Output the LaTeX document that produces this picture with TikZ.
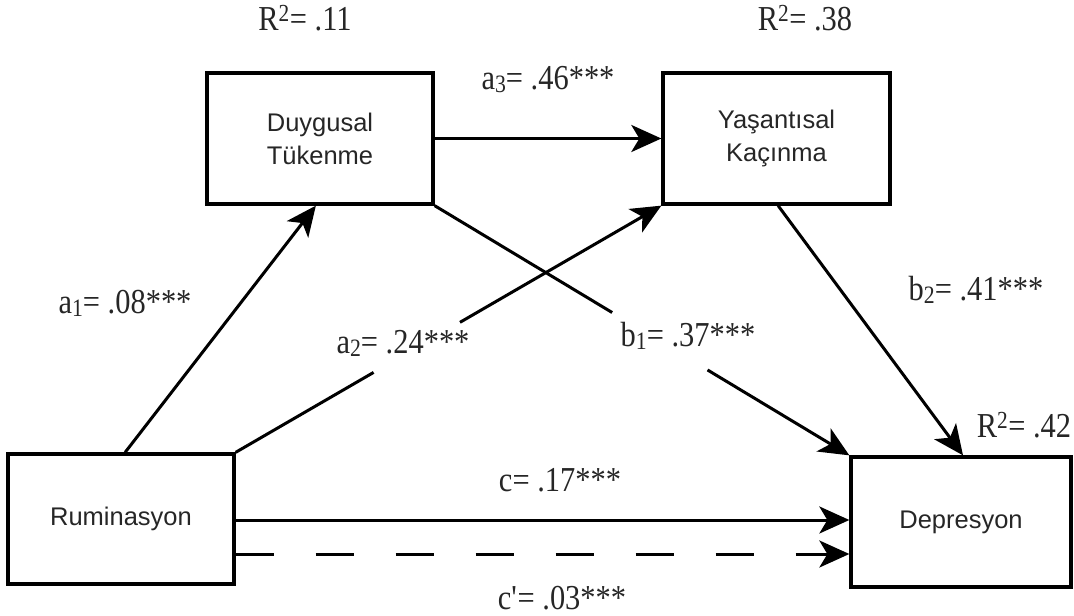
\documentclass[tikz,border=0pt]{standalone}
\usepackage{fontspec}
\setmainfont{Liberation Serif}
\setsansfont{Liberation Sans}
\newfontfamily\labfont[FakeStretch=0.87]{Liberation Serif}
\newcommand\lsub[1]{\raisebox{-3pt}{\fontsize{25}{25}\selectfont #1}}
\usetikzlibrary{arrows.meta,calc}
\begin{document}
\begin{tikzpicture}[x=1pt,y=-1pt,
  box/.style={draw=black, line width=3.3pt, inner sep=0pt, align=center,
    font=\fontsize{25.5}{33}\selectfont\sffamily, text=black!85},
  lab/.style={font=\fontsize{35}{40}\labfont, text=black!85, inner sep=0pt},
  arr/.style={line width=3pt, -{Stealth[length=30pt,width=27pt,inset=8pt]}},
  ln/.style={line width=3pt}]
\useasboundingbox (0,0) rectangle (1074,616);
% boxes
\node[box, minimum width=226pt, minimum height=130pt] (R) at (121,519) {Ruminasyon};
\node[box, minimum width=226pt, minimum height=131pt] (D) at (320,138.5) {Duygusal\\Tükenme};
\node[box, minimum width=227pt, minimum height=131pt] (Y) at (776.5,138.5) {Yaşantısal\\Kaçınma};
\node[box, minimum width=220pt, minimum height=130pt] (Dp) at (961,522) {Depresyon};
% labels
\node[lab] (r11) at (305,18) {R\textsuperscript{2}= .11};
\node[lab] (r38) at (805,18) {R\textsuperscript{2}= .38};
\node[lab] (r42) at (1024,425) {R\textsuperscript{2}= .42};
\node[lab] (la3) at (548,80) {a\lsub{3}= .46***};
\node[lab] (la1) at (125,303) {a\lsub{1}= .08***};
\node[lab] (la2) at (403,343) {a\lsub{2}= .24***};
\node[lab] (lb1) at (688,336) {b\lsub{1}= .37***};
\node[lab] (lb2) at (976,290) {b\lsub{2}= .41***};
\node[lab] (lc) at (560,480) {c= .17***};
\node[lab] (lcp) at (562,598) {c\textquotesingle= .03***};
% connectors
\draw[arr] ($(R.north west)!0.518!(R.north east)$) -- ($(D.south west)!0.482!(D.south east)$);
\draw[ln] (R.north east) -- ($(R.north east)!0.324!(Y.south west)$);
\draw[arr] ($(R.north east)!0.527!(Y.south west)$) -- (Y.south west);
\draw[ln] (D.south east) -- ($(D.south east)!0.428!(Dp.north west)$);
\draw[arr] ($(D.south east)!0.658!(Dp.north west)$) -- (Dp.north west);
\draw[arr] ($(Y.south west)!0.507!(Y.south east)$) -- ($(Dp.north west)!0.509!(Dp.north east)$);
\draw[arr] (D.east) -- (Y.west);
\draw[arr] ([yshift=-1pt]R.east) -- ([yshift=-1pt]R.east -| Dp.west);
\draw[arr, dash pattern=on 38pt off 42pt] ([yshift=-35pt]R.east) -- ([yshift=-35pt]R.east -| Dp.west);
\end{tikzpicture}
\end{document}
